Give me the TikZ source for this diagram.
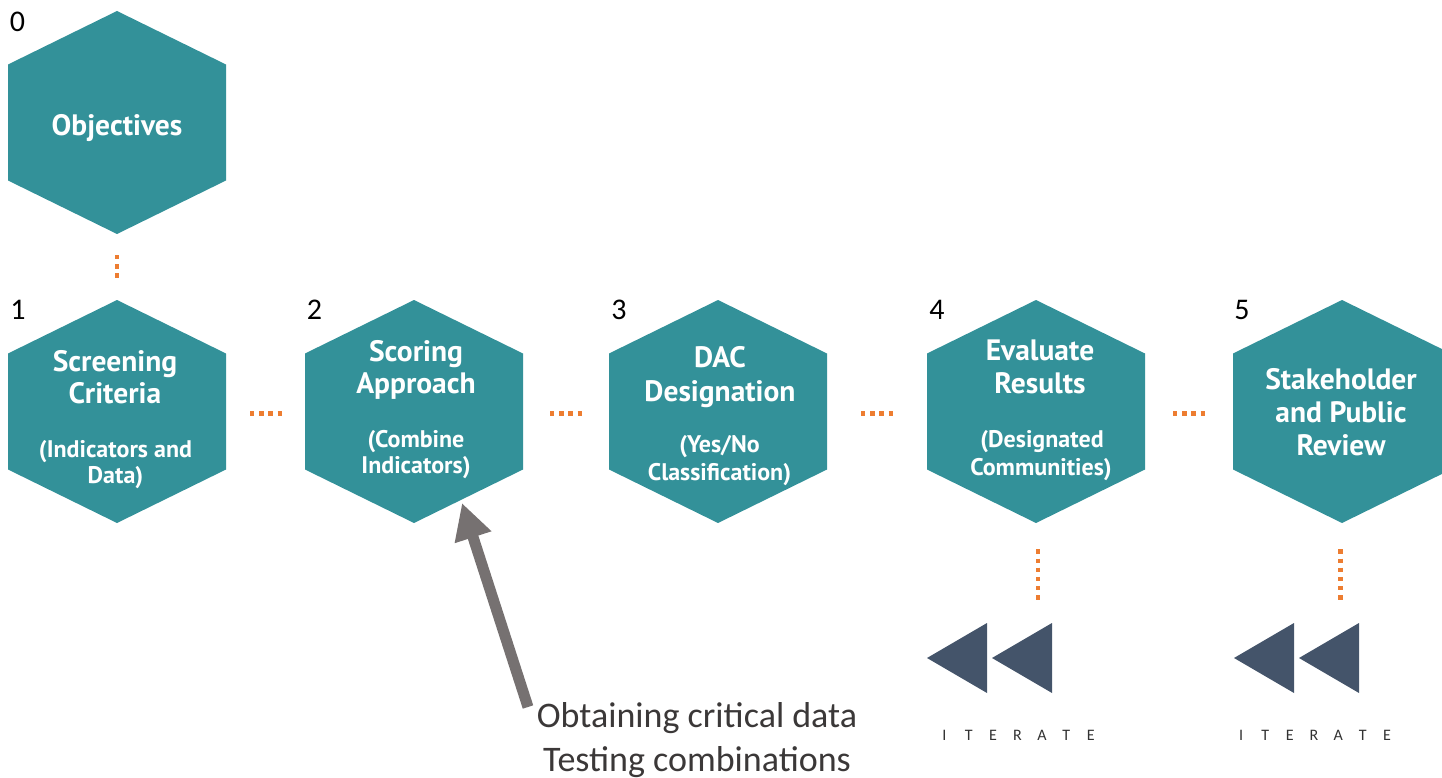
\documentclass[tikz,border=0pt]{standalone}
\usepackage{fontspec}
\setmainfont{Carlito}
\newfontfamily\hexfont{PT Sans}
\usetikzlibrary{calc,arrows.meta}
\definecolor{hexteal}{RGB}{51,145,153}
\definecolor{dotorange}{RGB}{237,125,49}
\definecolor{slate}{RGB}{68,84,106}
\definecolor{arrowgray}{RGB}{118,113,113}
\definecolor{textdark}{RGB}{59,56,56}
\definecolor{itergray}{RGB}{50,50,50}
\newcommand{\hexfill}[1]{\fill[hexteal] ($(#1.center)+(0,-111.5)$) -- ++(109,53.5) -- ++(0,116) -- ++(-109,53.5) -- ++(-109,-53.5) -- ++(0,-116) -- cycle;}
\newcommand{\rewindat}[1]{%
  \fill[slate] (#1,658) -- ++(60,-35) -- ++(0,70) -- cycle;
  \fill[slate] (#1+65,658) -- ++(60,-35) -- ++(0,70) -- cycle;}
\begin{document}
\begin{tikzpicture}[x=1pt,y=-1pt,
  hexbox/.style={minimum width=218pt,minimum height=223pt,inner sep=0pt,outer sep=0pt},
  ttl/.style={anchor=base,text=white,inner sep=0pt,font=\hexfont\bfseries\fontsize{29.5}{32}\selectfont},
  subt/.style={anchor=base,text=white,inner sep=0pt,font=\hexfont\bfseries\fontsize{24}{26}\selectfont},
  num/.style={anchor=base,inner sep=0pt,text=black,font=\fontsize{30}{36}\selectfont},
  note/.style={anchor=base,inner sep=0pt,text=textdark,font=\fontsize{36}{40}\selectfont},
  iter/.style={anchor=base,inner sep=0pt,text=itergray,font=\fontsize{16}{19}\selectfont},
  dots/.style={draw=dotorange,line width=4.3pt,dash pattern=on 4.3pt off 4.9pt},
  bigarrow/.style={draw=arrowgray,line width=11pt,-{Triangle[width=36pt,length=36pt]}}
]
\useasboundingbox (0,0) rectangle (1442,778);
\clip (0,0) rectangle (1442,778);

% hexagon frames
\node[hexbox] (h0) at (117,122.5) {};
\node[hexbox] (h1) at (117,411.5) {};
\node[hexbox] (h2) at (414,411.5) {};
\node[hexbox] (h3) at (718,411.5) {};
\node[hexbox] (h4) at (1036,411.5) {};
\node[hexbox] (h5) at (1342,411.5) {};
\hexfill{h0}\hexfill{h1}\hexfill{h2}\hexfill{h3}\hexfill{h4}\hexfill{h5}

% step numbers
\node[num] (n0) at (17.5,31.5) {0};
\node[num] (n1) at (18,319) {1};
\node[num] (n2) at (314.5,319) {2};
\node[num] (n3) at (619,319) {3};
\node[num] (n4) at (937,319) {4};
\node[num] (n5) at (1242,319) {5};

% hexagon texts
\node[ttl] (t0a) at (117,136) {Objectives};
\node[ttl] (t1a) at (115,371) {Screening};
\node[ttl] (t1b) at (115,403) {Criteria};
\node[subt] (s1a) at (115.5,457) {(Indicators and};
\node[subt] (s1b) at (115.5,483) {Data)};
\node[ttl] (t2a) at (416,361) {Scoring};
\node[ttl] (t2b) at (416,393) {Approach};
\node[subt] (s2a) at (416,447) {(Combine};
\node[subt] (s2b) at (416,473) {Indicators)};
\node[ttl] (t3a) at (720,367) {DAC};
\node[ttl] (t3b) at (720,401.5) {Designation};
\node[subt] (s3a) at (719.5,452) {(Yes/No};
\node[subt] (s3b) at (719.5,480) {Classification)};
\node[ttl] (t4a) at (1040,360) {Evaluate};
\node[ttl] (t4b) at (1040,393) {Results};
\node[subt] (s4a) at (1042,447) {(Designated};
\node[subt] (s4b) at (1041,475) {Communities)};
\node[ttl] (t5a) at (1341,389) {Stakeholder};
\node[ttl] (t5b) at (1341,422) {and Public};
\node[ttl] (t5c) at (1341,455.5) {Review};

% dotted connectors
\draw[dots,shorten <=21pt,shorten >=21pt] (h0.south) -- (h1.north);
\draw[dots,shorten <=24pt,shorten >=23pt] ([yshift=-2pt]h1.east) -- ([yshift=-2pt]h2.west);
\draw[dots,shorten <=27pt,shorten >=27pt] ([yshift=-2pt]h2.east) -- ([yshift=-2pt]h3.west);
\draw[dots,shorten <=34pt,shorten >=34pt] ([yshift=-2pt]h3.east) -- ([yshift=-2pt]h4.west);
\draw[dots,shorten <=28pt,shorten >=28pt] ([yshift=-2pt]h4.east) -- ([yshift=-2pt]h5.west);
\coordinate (v4) at (1038,600.7);
\coordinate (v5) at (1340.5,600.7);
\draw[dots,shorten <=26.3pt] (v4 |- h4.south) -- (v4);
\draw[dots,shorten <=26.3pt] (v5 |- h5.south) -- (v5);

% rewind icons
\rewindat{927}
\rewindat{1234}
\foreach \c [count=\i from 0] in {I,T,E,R,A,T,E} {
  \node[iter] (ia\i) at (944.3+24.4*\i,740) {\c};
  \node[iter] (ib\i) at (1241+24.33*\i,740) {\c};
}

% annotation arrow
\coordinate (atail) at (528,707);
\coordinate (atip) at (462,503);
\draw[bigarrow] (atail) -- (atip);
\node[note] (na) at (697,727.3) {Obtaining critical data};
\node[note] (nb) at (697,771.5) {Testing combinations};
\end{tikzpicture}
\end{document}
